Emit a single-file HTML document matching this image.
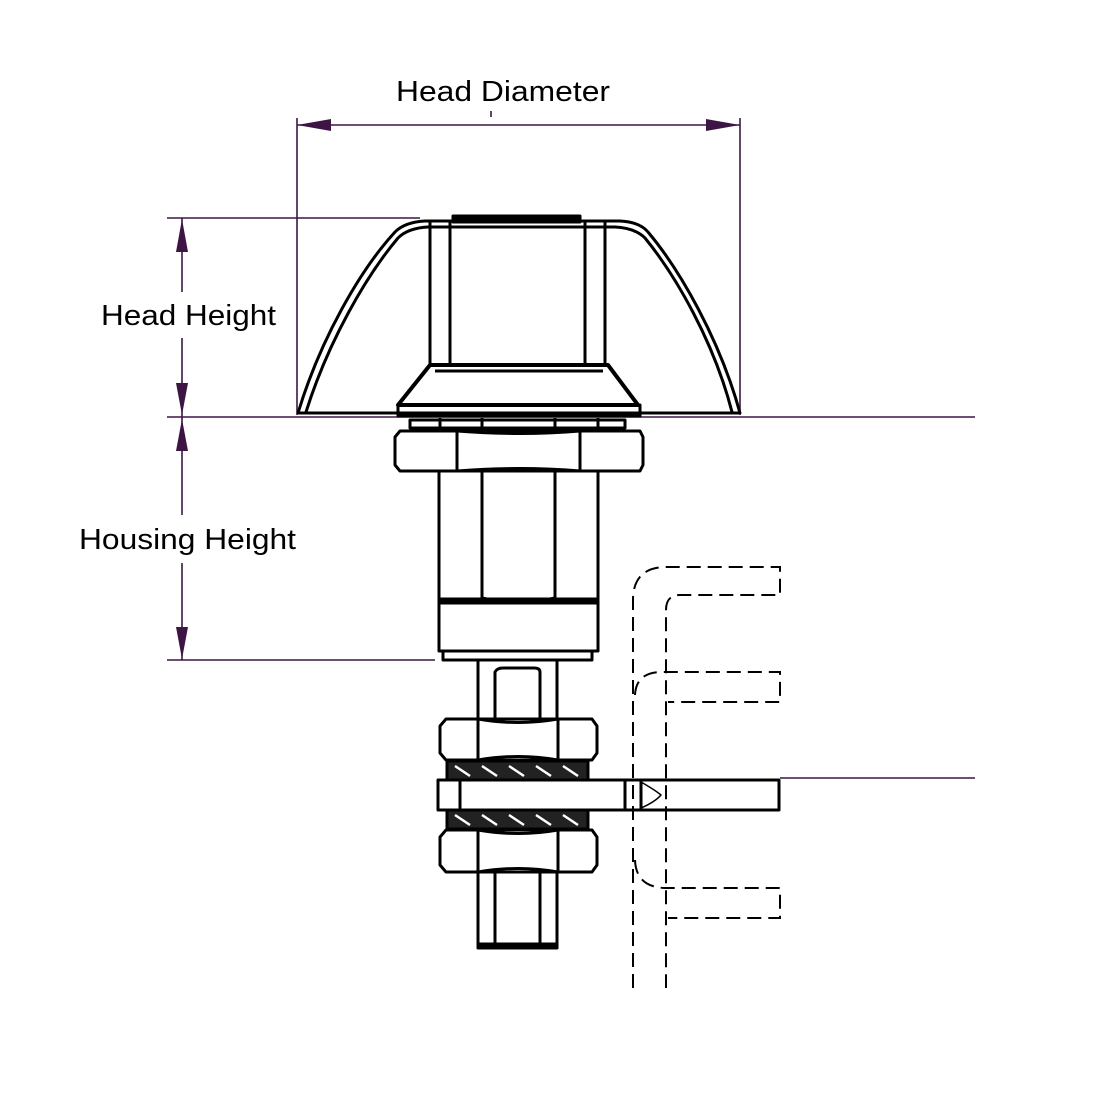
<!DOCTYPE html>
<html><head><style>body{margin:0;background:#fff}svg{display:block}</style></head><body>
<svg width="1100" height="1100" viewBox="0 0 1100 1100" xmlns="http://www.w3.org/2000/svg">
<rect width="1100" height="1100" fill="#fff"/>
<g stroke="#3d1545" stroke-width="1.6" fill="none">
<line x1="297" y1="118" x2="297" y2="415"/>
<line x1="740" y1="118" x2="740" y2="415"/>
<line x1="297" y1="125" x2="740" y2="125"/>
<line x1="491" y1="111" x2="491" y2="117"/>
<line x1="167" y1="218" x2="420" y2="218"/>
<line x1="182" y1="218" x2="182" y2="660"/>
<line x1="167" y1="417" x2="975" y2="417"/>
<line x1="167" y1="660" x2="435" y2="660"/>
<line x1="780" y1="778" x2="975" y2="778"/>
</g>
<rect x="95" y="292" width="190" height="46" fill="#fff"/>
<rect x="75" y="515" width="225" height="48" fill="#fff"/>
<g font-family="Liberation Sans, sans-serif" font-size="29" fill="#000">
<text x="396" y="101" textLength="214" lengthAdjust="spacingAndGlyphs">Head Diameter</text>
<text x="101" y="325" textLength="175" lengthAdjust="spacingAndGlyphs">Head Height</text>
<text x="79" y="549" textLength="217" lengthAdjust="spacingAndGlyphs">Housing Height</text>
</g>
<g fill="#3d1545">
<polygon points="297,125 331,119 331,131"/>
<polygon points="740,125 706,119 706,131"/>
<polygon points="182,219 176,252 188,252"/>
<polygon points="182,415 176,383 188,383"/>
<polygon points="182,419 176,451 188,451"/>
<polygon points="182,659 176,627 188,627"/>
</g>
<g stroke="#000" stroke-width="3" fill="none" stroke-linejoin="round">
<path d="M298,413 C320,340 360,270 395,232 Q405,222 425,221 L620,221 Q640,222 648,232 C680,270 720,340 740,413 Z"/>
<path d="M306,412 C328,342 366,276 398,238 Q408,228 428,227 L615,227 Q635,228 645,238 C676,276 714,342 732,412"/>
<line x1="430" y1="222" x2="430" y2="365"/>
<line x1="450" y1="222" x2="450" y2="365"/>
<line x1="585" y1="222" x2="585" y2="365"/>
<line x1="605" y1="222" x2="605" y2="365"/>
<rect x="453" y="216" width="127" height="6" fill="#000"/>
<path d="M430,365 L608,365 L638,405 L398,405 Z" stroke-width="4"/>
<line x1="435" y1="371" x2="603" y2="371"/>
<rect x="398" y="405" width="242" height="11"/>
<rect x="410" y="420" width="215" height="8"/>
<line x1="440" y1="418" x2="440" y2="428"/><line x1="482" y1="418" x2="482" y2="428"/><line x1="555" y1="418" x2="555" y2="428"/><line x1="598" y1="418" x2="598" y2="428"/>
<path d="M400,431 L640,431 L643,437 L643,465 L640,471 L400,471 L395,465 L395,437 Z"/>
<path d="M457,431 Q520,436 580,431 M457,471 Q520,466 580,471"/>
<line x1="457" y1="431" x2="457" y2="471"/><line x1="580" y1="431" x2="580" y2="471"/>
<rect x="439" y="471" width="159" height="180"/>
<line x1="482" y1="471" x2="482" y2="598"/><line x1="555" y1="471" x2="555" y2="598"/>
<path d="M482,598 Q518,606 555,598"/>
<rect x="439" y="599" width="159" height="4" fill="#000"/>
<rect x="443" y="651" width="149" height="9"/>
<line x1="478" y1="660" x2="478" y2="718"/><line x1="557" y1="660" x2="557" y2="718"/>
<path d="M495,718 L495,672 Q497,668 503,668 L534,668 Q540,668 540,672 L540,718"/>
<path d="M446,719 L592,719 L597,726 L597,753 L592,760 L446,760 L440,753 L440,726 Z"/>
<path d="M478,719 Q518,726 558,719 M478,760 Q518,753 558,760"/>
<line x1="478" y1="719" x2="478" y2="760"/><line x1="558" y1="719" x2="558" y2="760"/>
<rect x="447" y="761" width="141" height="19" fill="#222"/>
<rect x="447" y="810" width="141" height="19" fill="#222"/>
<rect x="438" y="780" width="341" height="30" fill="#fff"/>
<line x1="460" y1="780" x2="460" y2="810"/>
<line x1="625" y1="780" x2="625" y2="810"/>
<line x1="641" y1="780" x2="641" y2="810"/>
<path d="M641,782 Q655,790 661,795 Q655,802 641,808" stroke-width="1.5"/>
<path d="M446,830 L592,830 L597,837 L597,865 L592,872 L446,872 L440,865 L440,837 Z"/>
<path d="M478,830 Q518,837 558,830 M478,872 Q518,865 558,872"/>
<line x1="478" y1="830" x2="478" y2="872"/><line x1="558" y1="830" x2="558" y2="872"/>
<path d="M478,872 L478,946 L557,946 L557,872"/>
<line x1="495" y1="872" x2="495" y2="946"/><line x1="540" y1="872" x2="540" y2="946"/>
<rect x="478" y="944" width="79" height="4" fill="#000"/>
</g>
<g stroke="#fff" stroke-width="2.5">
<path d="M455,766 l15,10 M482,766 l15,10 M509,766 l15,10 M536,766 l15,10 M563,766 l15,10"/>
<path d="M455,815 l15,10 M482,815 l15,10 M509,815 l15,10 M536,815 l15,10 M563,815 l15,10"/>
</g>
<g stroke="#000" stroke-width="2" fill="none" stroke-dasharray="14,7">
<path d="M633,988 L633,600 Q633,568 665,567 L780,567 L780,595 L680,595 Q666,595 666,610 L666,988"/>
<path d="M635,695 Q636,673 660,672 L780,672 L780,702 L668,702"/>
<path d="M635,860 Q636,887 665,888 L780,888 L780,918 L668,918"/>
</g>
</svg>
</body></html>
